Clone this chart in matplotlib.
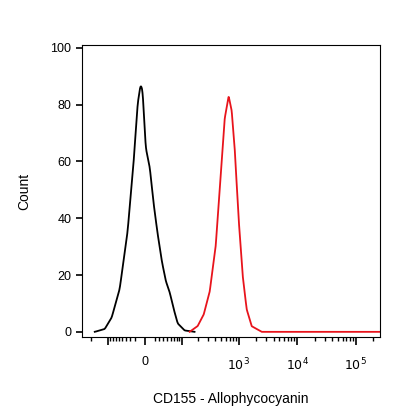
import numpy as np
import matplotlib
matplotlib.use("Agg")
import matplotlib.pyplot as plt
from matplotlib.scale import FuncScale

plt.rcParams["font.family"] = ["Liberation Sans", "DejaVu Sans"]

# 控制组（黑）与 CD155 染色（红）直方图
ctrl_x = [-173, -114, -84, -57, -36, -22, -14, -8, -4, 2, 10, 18, 26, 36, 46, 57, 70, 84, 114, 173]
ctrl_y = [0, 1, 5, 15, 35, 60, 80, 87, 85, 65, 58, 45, 35, 25, 18, 14, 8, 3, 0.5, 0]
stain_x = [141, 196, 250, 318, 404, 492, 577, 675, 760, 855, 1000, 1172, 1373, 1672, 2477, 260000]
stain_y = [0, 2, 6, 14, 30, 55, 75, 83, 78, 65, 40, 20, 8, 2, 0, 0]

W = 49.5


def fwd(x):
    return np.arcsinh(np.asarray(x) / W)


def inv(y):
    return W * np.sinh(np.asarray(y))


def smooth(xs, ys, n=400):
    # 在显示坐标下做平滑插值，让曲线不那么折
    d = fwd(np.array(xs, dtype=float))
    dd = np.linspace(d[0], d[-1], n)
    yy = np.interp(dd, d, ys)
    k = np.ones(7) / 7
    yy = np.convolve(np.pad(yy, 3, mode="edge"), k, mode="valid")
    return inv(dd), yy


fig = plt.figure(figsize=(4.16, 4.16), dpi=100)
ax = fig.add_axes([0.197, 0.19, 0.716, 0.702])
ax.set_xscale(FuncScale(ax.xaxis, (fwd, inv)))

ax.plot(*smooth(ctrl_x, ctrl_y), color="black", lw=1.3)
ax.plot(*smooth(stain_x, stain_y, 2000), color="#e8141c", lw=1.3)

ax.set_xlim(-290, 2.6e5)
ax.set_ylim(-1.8, 101)

major = [-100, 0, 100, 1e3, 1e4, 1e5]
minor = []
for dec in [10, 100, 1000, 10000]:
    for m in range(2, 10):
        minor.append(m * dec)
minor += [-m * 10 for m in range(2, 10)] + [-200]
minor += [2e5]
ax.set_xticks(major)
ax.set_xticklabels(["", "0", "", "$10^3$", "$10^4$", "$10^5$"])
ax.set_xticks(minor, minor=True)
ax.set_yticks([0, 20, 40, 60, 80, 100])
ax.tick_params(axis="both", direction="out", labelsize=9, width=1.2)
ax.tick_params(axis="x", which="major", length=6, pad=8)
ax.tick_params(axis="x", which="minor", length=3, width=1)
ax.tick_params(axis="y", length=4)

ax.set_xlabel("CD155 - Allophycocyanin", fontsize=10, labelpad=14)
ax.set_ylabel("Count", fontsize=10, labelpad=14)

fig.savefig("out.png", dpi=100)
